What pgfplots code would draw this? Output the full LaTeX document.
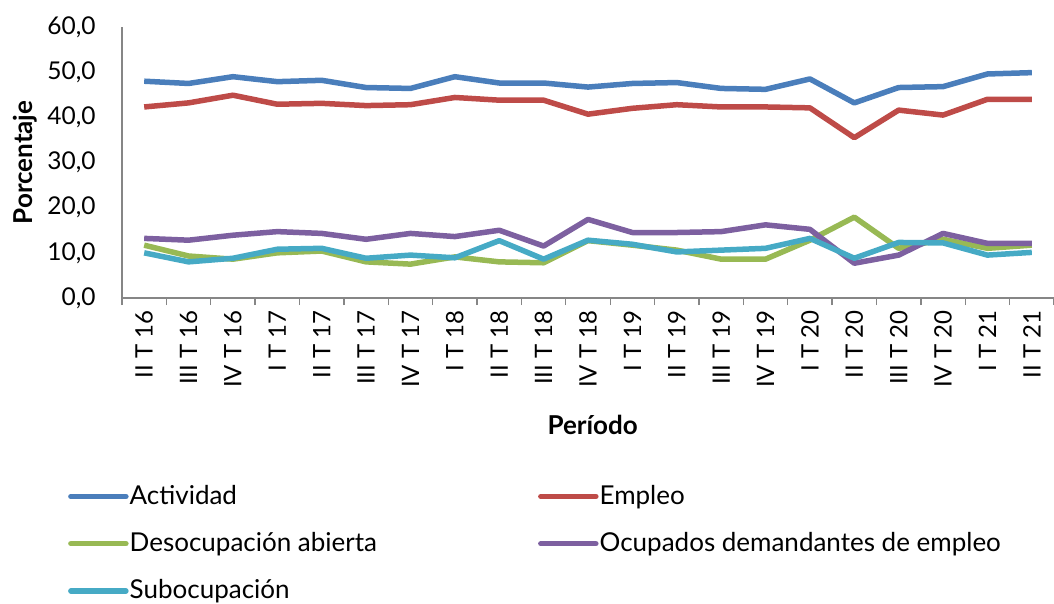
\documentclass[border=0pt]{standalone}
\usepackage{fontspec}
\setmainfont{Lato}
\usepackage{pgfplots}
\pgfplotsset{compat=1.18}
\definecolor{cAct}{HTML}{4A7EBB}
\definecolor{cEmp}{HTML}{BE4B48}
\definecolor{cDes}{HTML}{98B954}
\definecolor{cOcu}{HTML}{7D60A0}
\definecolor{cSub}{HTML}{46AAC5}
\definecolor{axgray}{HTML}{868686}
\begin{document}
\fontsize{24}{28}\selectfont
\begin{tikzpicture}[x=1pt,y=1pt]
\useasboundingbox (-122,-305) rectangle (932,298);
\begin{axis}[
  at={(0,0)}, anchor=south west,
  scale only axis, width=932pt, height=271pt,
  xmin=-0.5, xmax=20.5, ymin=0, ymax=60,
  axis x line=bottom, axis y line=left,
  axis line style={-, draw=axgray, line width=1.3pt},
  ytick={0,10,...,60},
  /pgf/number format/assume math mode=true,
  yticklabel style={/pgf/number format/.cd, fixed, fixed zerofill, precision=1, use comma, /tikz/.cd, font=\fontsize{24.5}{28}\selectfont, xshift=-16pt},
  major y tick style={draw=none},
  xtick={0,...,20},
  xticklabels={II T 16,III T 16,IV T 16,I T 17,II T 17,III T 17,IV T 17,I T 18,II T 18,III T 18,IV T 18,I T 19,II T 19,III T 19,IV T 19,I T 20,II T 20,III T 20,IV T 20,I T 21,II T 21},
  xticklabel style={rotate=90, anchor=east, font=\fontsize{24}{28}\selectfont},
  major x tick style={draw=none},
  minor xtick={-0.5,0.5,...,20.5},
  minor x tick style={draw=axgray, line width=1.3pt},
  minor tick length=7pt,
  xtick align=outside,
  every axis y label/.style={at={(axis description cs:-0.104,0.5)}, rotate=90, anchor=center, font=\fontsize{26}{30}\selectfont\bfseries},
  every axis x label/.style={at={(axis description cs:0.505,-0.469)}, anchor=center, font=\fontsize{26}{30}\selectfont\bfseries},
  ylabel={Porcentaje},
  xlabel={Período},
  legend columns=2,
  legend style={at={(axis description cs:-0.058,-0.686)}, anchor=north west, draw=none, fill=none,
    font=\fontsize{26}{30}\selectfont, row sep=22.5pt, inner sep=0pt,
    nodes={inner sep=1pt},
    /tikz/every even column/.append style={column sep=160pt}},
  legend cell align=left,
  legend image code/.code={\draw[#1, line width=5.5pt, line cap=round] (0pt,0pt) -- (55pt,0pt);},
  every axis plot/.append style={line width=5.5pt, line join=round, no marks},
]
\addplot[cAct] coordinates {(0,48.0)(1,47.5)(2,49.0)(3,47.9)(4,48.2)(5,46.6)(6,46.4)(7,49.0)(8,47.6)(9,47.6)(10,46.7)(11,47.5)(12,47.7)(13,46.4)(14,46.2)(15,48.5)(16,43.2)(17,46.6)(18,46.8)(19,49.6)(20,49.9)};
\addlegendentry{Actividad}
\addplot[cEmp] coordinates {(0,42.3)(1,43.2)(2,44.9)(3,42.9)(4,43.1)(5,42.6)(6,42.8)(7,44.4)(8,43.8)(9,43.8)(10,40.7)(11,42.0)(12,42.8)(13,42.3)(14,42.3)(15,42.1)(16,35.5)(17,41.6)(18,40.5)(19,44.0)(20,44.0)};
\addlegendentry{Empleo}
\addplot[cDes] coordinates {(0,11.7)(1,9.3)(2,8.6)(3,10.0)(4,10.4)(5,8.0)(6,7.5)(7,9.1)(8,8.0)(9,7.8)(10,12.7)(11,11.7)(12,10.6)(13,8.6)(14,8.6)(15,12.8)(16,17.9)(17,11.0)(18,13.0)(19,11.0)(20,11.7)};
\addlegendentry{Desocupación abierta}
\addplot[cOcu] coordinates {(0,13.2)(1,12.8)(2,13.9)(3,14.7)(4,14.3)(5,13.0)(6,14.3)(7,13.6)(8,15.0)(9,11.5)(10,17.4)(11,14.5)(12,14.5)(13,14.7)(14,16.2)(15,15.2)(16,7.7)(17,9.5)(18,14.3)(19,12.1)(20,12.1)};
\addlegendentry{Ocupados demandantes de empleo}
\addplot[cSub] coordinates {(0,10.0)(1,8.0)(2,8.8)(3,10.8)(4,11.0)(5,8.8)(6,9.5)(7,8.9)(8,12.7)(9,8.6)(10,12.8)(11,11.9)(12,10.2)(13,10.6)(14,11.0)(15,13.2)(16,8.8)(17,12.3)(18,12.2)(19,9.5)(20,10.1)};
\addlegendentry{Subocupación}
\end{axis}
\end{tikzpicture}
\end{document}
